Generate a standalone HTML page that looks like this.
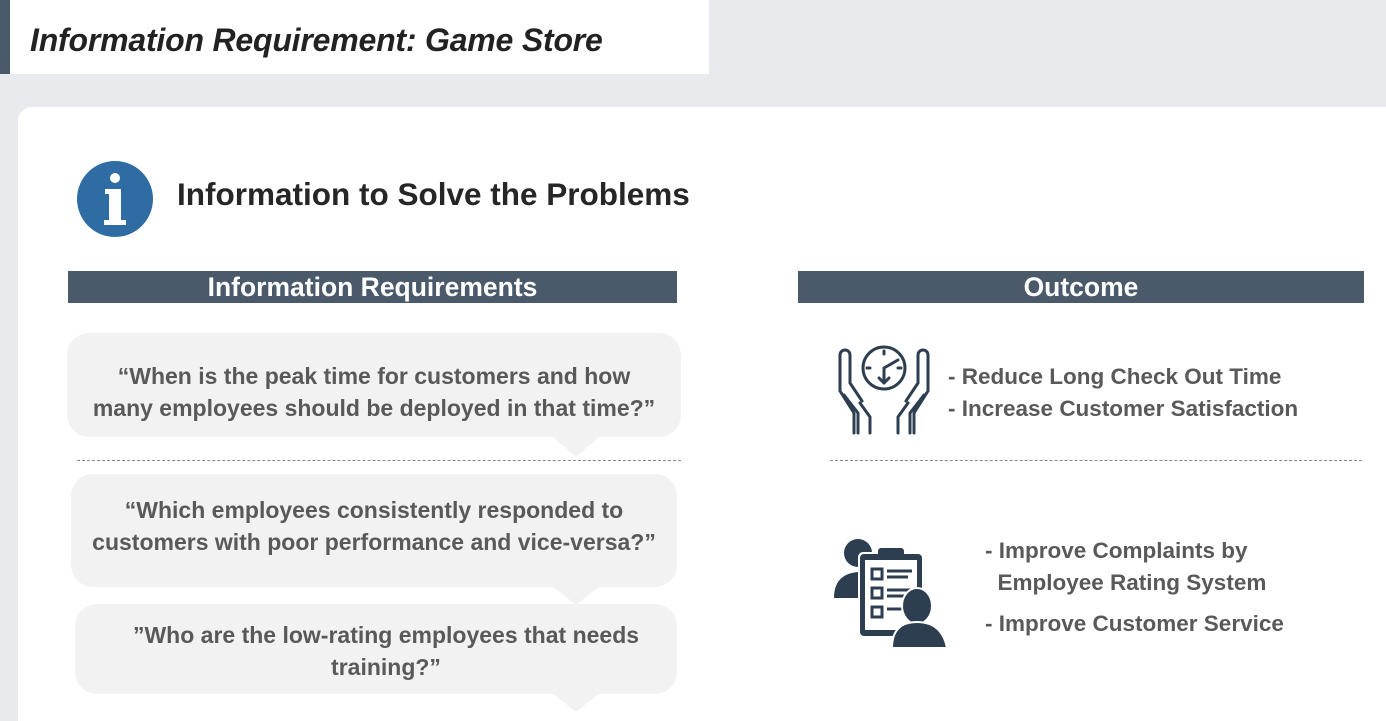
<!DOCTYPE html>
<html><head><meta charset="utf-8"><style>
*{margin:0;padding:0;box-sizing:border-box}
html,body{width:1386px;height:721px;overflow:hidden}
body{background:#e9eaee;position:relative;font-family:"Liberation Sans",sans-serif}
.abs{position:absolute}
.t{color:#595959;font-weight:bold;font-size:22.5px;white-space:nowrap}
.bar{background:#4a5a6b;color:#fff;font-weight:bold;font-size:26.5px;text-align:center;line-height:33px;height:32px}
.dash{border-top:1px dashed #888;height:0}
.q{color:#595959;font-weight:bold;font-size:23px;text-align:center;line-height:32px;white-space:nowrap}
</style></head><body>
<div class="abs" style="left:0;top:0;width:10px;height:74px;background:#4a5a6b"></div>
<div class="abs" style="left:10px;top:0;width:699px;height:74px;background:#fff"></div>
<div class="abs" style="left:30px;top:22px;font-size:32px;font-style:italic;font-weight:bold;color:#222;white-space:nowrap;letter-spacing:-0.2px">Information Requirement: Game Store</div>
<div class="abs" style="left:18px;top:107px;width:1400px;height:640px;background:#fff;border-radius:14px"></div>

<svg class="abs" style="left:76px;top:160px" width="80" height="78" viewBox="0 0 80 78">
<ellipse cx="39" cy="39" rx="38" ry="38" fill="#2f6ca4"/>
<circle cx="39" cy="18" r="5" fill="#fff"/>
<path d="M29 29 H45 V60 H50 V65 H28 V60 H33 V34 H29 Z" fill="#fff"/>
</svg>
<div class="abs" style="left:177px;top:176px;font-size:31.5px;font-weight:bold;color:#262626;white-space:nowrap">Information to Solve the Problems</div>

<div class="abs bar" style="left:68px;top:271px;width:609px">Information Requirements</div>
<div class="abs bar" style="left:798px;top:271px;width:566px">Outcome</div>

<svg class="abs" style="left:0;top:0" width="1386" height="721">
<g fill="#f2f2f2">
<rect x="67" y="333" width="614" height="104" rx="22"/>
<polygon points="552,436 600,436 576,457"/>
<rect x="71" y="474" width="606" height="113" rx="22"/>
<polygon points="552,586 600,586 576,605"/>
<rect x="75" y="604" width="602" height="90" rx="22"/>
<polygon points="552,693 600,693 576,712"/>
</g>
</svg>
<div class="abs dash" style="left:77px;top:460px;width:604px"></div>
<div class="abs dash" style="left:830px;top:460px;width:532px"></div>

<div class="abs q" style="left:67px;top:360px;width:614px">“When is the peak time for customers and how<br>many employees should be deployed in that time?”</div>
<div class="abs q" style="left:71px;top:494px;width:606px">“Which employees consistently responded to<br>customers with poor performance and vice-versa?”</div>
<div class="abs q" style="left:85px;top:619px;width:602px">”Who are the low-rating employees that needs<br>training?”</div>

<div class="abs t" style="left:948px;top:361px;line-height:32px">- Reduce Long Check Out Time<br>- Increase Customer Satisfaction</div>
<div class="abs t" style="left:985px;top:535px;line-height:32px">- Improve Complaints by<br>&nbsp;&nbsp;Employee Rating System</div>
<div class="abs t" style="left:985px;top:608px;line-height:32px">- Improve Customer Service</div>

<svg class="abs" style="left:836px;top:343px" width="96" height="92" viewBox="0 0 96 92" fill="none" stroke="#2d3e50" stroke-width="3" stroke-linecap="round">
<circle cx="48" cy="25" r="21"/>
<path d="M48 25 V40 M48 25 L62 17"/>
<path d="M48 40 l-5 -5 M48 40 l5 -5"/>
<path d="M48 8 v3 M31 25 h3 M65 25 h-3"/>
<path d="M18 90 V70 L4 48 V12 a5 5 0 0 1 10 0 V40 L26 58 M8 52 L22 70 V90"/>
<path d="M78 90 V70 L92 48 V12 a5 5 0 0 0 -10 0 V40 L70 58 M88 52 L74 70 V90"/>
<path d="M34 90 V74 L24 60 M62 90 V74 L72 60"/>
</svg>

<svg class="abs" style="left:832px;top:536px" width="118" height="114" viewBox="0 0 118 114">
<g fill="#2d3e50">
<circle cx="26" cy="17" r="14"/>
<path d="M2 62 Q2 38 26 36 Q50 38 50 62 Z"/>
<rect x="26" y="16" width="66" height="86" rx="5" fill="#fff"/>
<rect x="28" y="18" width="62" height="82" rx="4"/>
<rect x="33" y="24" width="52" height="70" fill="#fff"/>
<rect x="46" y="12" width="26" height="9" rx="3"/>
</g>
<g fill="none" stroke="#2d3e50" stroke-width="3">
<rect x="40" y="33" width="10" height="10"/><rect x="40" y="52" width="10" height="10"/><rect x="40" y="71" width="10" height="10"/>
<path d="M55 35 H80 M55 41 H76 M55 54 H80 M55 60 H72 M55 73 H72"/>
</g>
<g fill="#2d3e50" stroke="#fff" stroke-width="2">
<ellipse cx="85" cy="70" rx="15" ry="18"/>
<path d="M60 112 Q60 86 85 86 Q110 86 115 112 Z"/>
</g>
</svg>
</body></html>
